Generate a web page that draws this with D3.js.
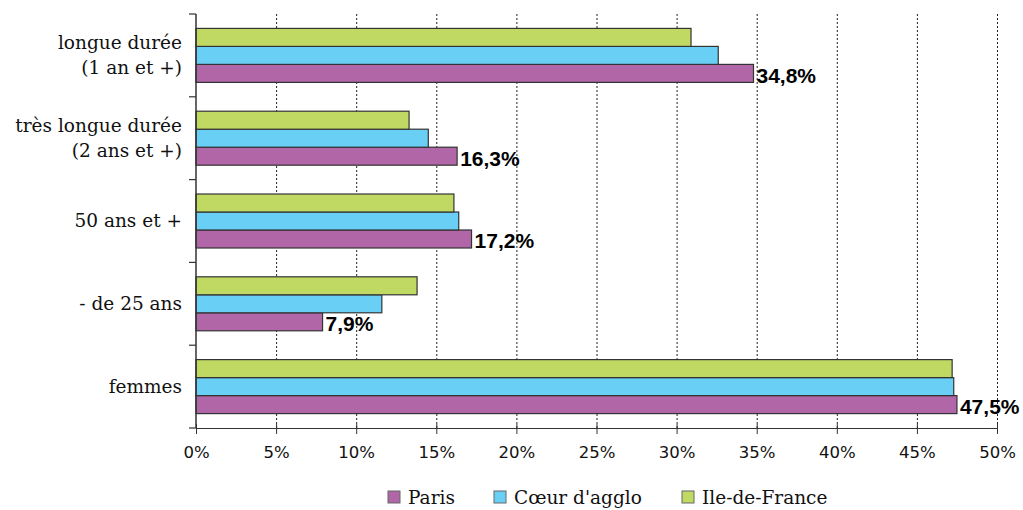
<!DOCTYPE html>
<html>
<head>
<meta charset="utf-8">
<script src="https://cdn.jsdelivr.net/npm/d3@7"></script>
<style>
    body { margin: 0; background: #fff; }
    svg { display: block; }
    .catLabel { font-family: "DejaVu Serif", serif; font-size: 18.5px; fill: #111; }
    .xAxis text { font-family: "DejaVu Sans", sans-serif; font-size: 16.5px; fill: #111; }
    .valLabel { font-family: "Liberation Sans", Arial, sans-serif; font-size: 21px; font-weight: bold; fill: #000; }
    .legendText { font-family: "DejaVu Serif", serif; font-size: 18.5px; fill: #111; }
</style>
</head>
<body>
<div id="plotSect"></div>
<script>
/* global d3 */

// data //
let categories = [
    ["longue durée", "(1 an et +)"],
    ["très longue durée", "(2 ans et +)"],
    ["50 ans et +"],
    ["- de 25 ans"],
    ["femmes"]
];
let seriesNames = ["Paris", "Cœur d'agglo", "Ile-de-France"];
let paris = [34.8, 16.3, 17.2, 7.9, 47.5];
let coeur = [32.6, 14.5, 16.4, 11.6, 47.3];
let idf = [30.9, 13.3, 16.1, 13.8, 47.2];
let parisLabels = ["34,8%", "16,3%", "17,2%", "7,9%", "47,5%"];
let xTicks = [0, 5, 10, 15, 20, 25, 30, 35, 40, 45, 50];

let colors = {"Paris": "#b167a7", "Cœur d'agglo": "#6acff5", "Ile-de-France": "#bfd963"};

// chart setup //
let SVGwidth = 1023,
SVGheight = 510,
margin = {top: 14, right: 26, bottom: 82, left: 196},
width = SVGwidth - margin.left - margin.right,
height = SVGheight - margin.top - margin.bottom;

let svg = d3.select("#plotSect").append("svg")
    .attr("width", SVGwidth)
    .attr("height", SVGheight)
    .append("g")
    .attr("transform", "translate(" + margin.left + "," + margin.top + ")");

let xScale = d3.scaleLinear().domain([0, 50]).range([0, width]);

let yScale = d3.scaleBand()
    .domain(d3.range(categories.length))
    .range([0, height])
    .paddingInner(0.348)
    .paddingOuter(0.174);

// green on top, purple at bottom
let inner = d3.scaleBand()
    .domain(seriesNames.slice().reverse())
    .range([0, yScale.bandwidth()]);

// dotted gridlines
svg.selectAll(".grid")
    .data(xTicks.filter(function(d) { return d > 0; }))
    .enter().append("line")
    .attr("class", "grid")
    .attr("x1", function(d) { return xScale(d) + 0.5; })
    .attr("x2", function(d) { return xScale(d) + 0.5; })
    .attr("y1", 0)
    .attr("y2", height)
    .style("stroke", "#222")
    .style("stroke-width", 1)
    .style("stroke-dasharray", "2,2");

// bars
let rows = categories.map(function(c, i) {
    return [
        {cat: i, name: "Paris", value: paris[i]},
        {cat: i, name: "Cœur d'agglo", value: coeur[i]},
        {cat: i, name: "Ile-de-France", value: idf[i]}
    ];
});

let groups = svg.selectAll(".row")
    .data(rows)
    .enter().append("g")
    .attr("class", "row")
    .attr("transform", function(d, i) { return "translate(0," + yScale(i) + ")"; });

groups.selectAll("rect")
    .data(function(d) { return d; })
    .enter().append("rect")
    .attr("x", xScale(0))
    .attr("y", function(d) { return inner(d.name); })
    .attr("width", function(d) { return xScale(d.value) - xScale(0); })
    .attr("height", inner.bandwidth())
    .style("fill", function(d) { return colors[d.name]; })
    .style("stroke", "#333")
    .style("stroke-width", 1.2);

// value labels for Paris
groups.append("text")
    .attr("class", "valLabel")
    .attr("x", function(d, i) { return xScale(paris[i]) + 3; })
    .attr("y", inner("Paris") + inner.bandwidth() + 0.5)
    .text(function(d, i) { return parisLabels[i]; });

// x axis
let xAxis = d3.axisBottom(xScale)
    .tickValues(xTicks)
    .tickSize(6)
    .tickFormat(function(d) { return d + "%"; });

let xg = svg.append("g")
    .attr("class", "xAxis")
    .attr("transform", "translate(0," + height + ")")
    .call(xAxis);
xg.select(".domain").attr("d", "M0,0.5H" + width).style("stroke", "#333").style("stroke-width", 1.2);
xg.selectAll(".tick line").attr("y1", -4).style("stroke", "#333");
xg.selectAll(".tick text").attr("y", 18);

// y axis line with ticks at band boundaries
svg.append("line")
    .attr("x1", 0).attr("x2", 0)
    .attr("y1", 0).attr("y2", height)
    .style("stroke", "#333")
    .style("stroke-width", 1.5);

let boundaries = d3.range(categories.length + 1).map(function(i) {
    return i * yScale.step();
});
svg.selectAll(".yTick")
    .data(boundaries)
    .enter().append("line")
    .attr("class", "yTick")
    .attr("x1", -7).attr("x2", 0)
    .attr("y1", function(d) { return d; })
    .attr("y2", function(d) { return d; })
    .style("stroke", "#333")
    .style("stroke-width", 1.2);

// category labels
let catText = svg.selectAll(".catLabel")
    .data(categories)
    .enter().append("text")
    .attr("class", "catLabel")
    .attr("text-anchor", "end")
    .attr("transform", function(d, i) {
        return "translate(-14," + (yScale(i) + yScale.bandwidth() / 2) + ")";
    });

catText.selectAll("tspan")
    .data(function(d) { return d; })
    .enter().append("tspan")
    .attr("x", 0)
    .attr("y", function(d, j, nodes) {
        let n = nodes.length;
        return (j - (n - 1) / 2) * 25;
    })
    .attr("dy", "0.35em")
    .text(function(d) { return d; });

// legend
let legendX = [388, 494, 682];
let legend = svg.selectAll(".legend")
    .data(seriesNames)
    .enter().append("g")
    .attr("class", "legend")
    .attr("transform", function(d, i) {
        return "translate(" + (legendX[i] - margin.left) + "," + (height + 63) + ")";
    });

legend.append("rect")
    .attr("width", 12)
    .attr("height", 12)
    .style("fill", function(d) { return colors[d]; })
    .style("stroke", "#666")
    .style("stroke-width", 1);

legend.append("text")
    .attr("class", "legendText")
    .attr("x", 20)
    .attr("y", 6)
    .attr("dy", "0.38em")
    .text(function(d) { return d; });
</script>
</body>
</html>
